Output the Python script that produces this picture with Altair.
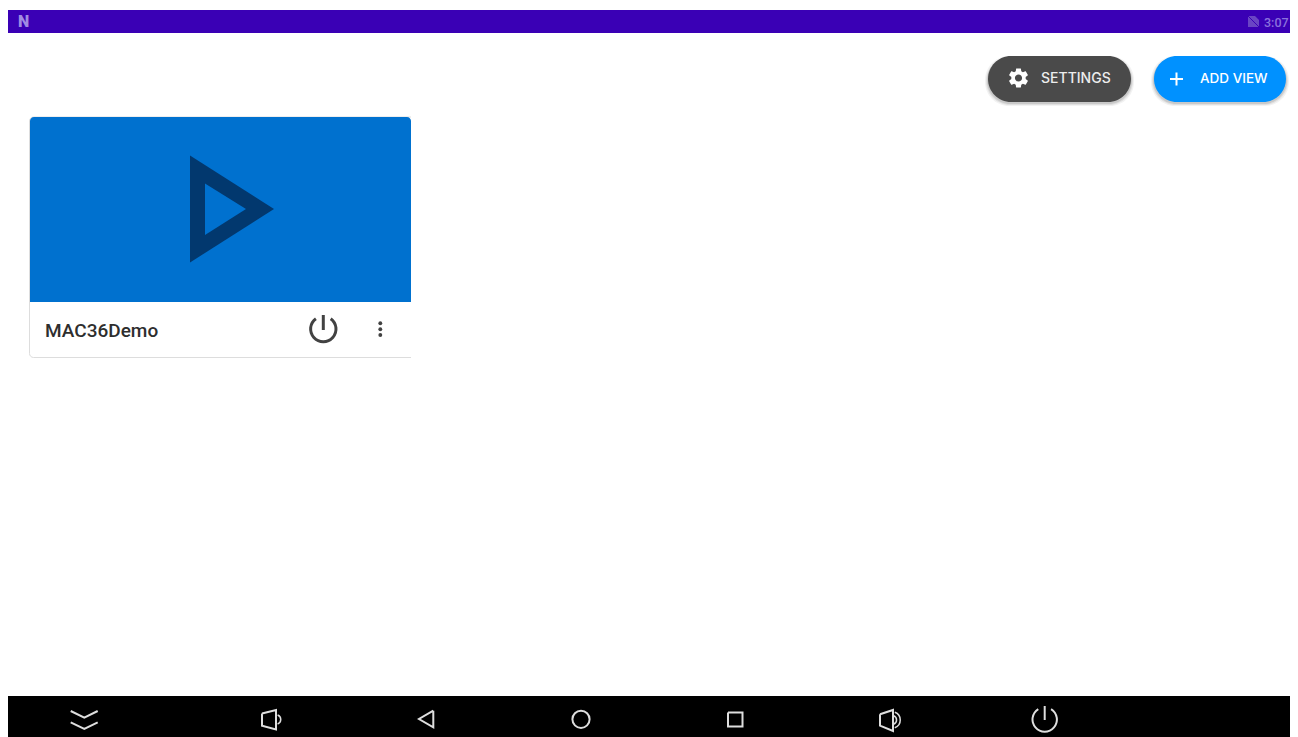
import altair as alt
import pandas as pd

W_DOMAIN = [8, 1290]
H_DOMAIN = [737, 8]

# Flat rectangles: x, x2, y, y2, colour
flat_rects = [
    (8, 1290, 10, 33, "#3A00B5"),
    (8, 1290, 696, 737, "#000000"),
]
# Button shadows: x, x2, y, y2, colour, opacity
shadow_rects = [
    (985, 1134, 56, 106, "#000000", 0.05),
    (986, 1133, 57, 105, "#000000", 0.07),
    (987, 1132, 57, 104, "#000000", 0.10),
    (1151, 1289, 56, 106, "#000000", 0.05),
    (1152, 1288, 57, 105, "#000000", 0.07),
    (1153, 1287, 57, 104, "#000000", 0.10),
]
button_rects = [
    (988, 1131, 56, 102, "#4A4A4A"),
    (1154, 1286, 56, 102, "#0091FF"),
]
card_frame = [(29.5, 440, 117, 357.5, "#FFFFFF")]
card_top = [(30, 411, 117, 302, "#0071CF")]
card_clip = [(411, 445, 112, 362, "#FFFFFF")]

# Filled outlines: id, x, y, y2, colour
filled_shapes = [
    ("play_outer", 190, 155.5, 262.5, "#02386E"),
    ("play_outer", 274, 209, 209, "#02386E"),
    ("play_inner", 205, 183.5, 235, "#0071CF"),
    ("play_inner", 246, 209, 209, "#0071CF"),
    ("sim", 1248, 16, 27, "#6A45C4"),
    ("sim", 1255, 16, 27, "#6A45C4"),
    ("sim", 1259, 20, 27, "#6A45C4"),
]

# Line icons: id, x, y, colour, width
NAV = "#DEDEDE"
icon_lines = [
    ("sim_slash", 1248, 16, "#3A00B5", 1),
    ("sim_slash", 1259, 27, "#3A00B5", 1),
    ("plus_h", 1170, 79, "#FFFFFF", 2),
    ("plus_h", 1183, 79, "#FFFFFF", 2),
    ("plus_v", 1176.5, 72.5, "#FFFFFF", 2),
    ("plus_v", 1176.5, 85.5, "#FFFFFF", 2),
    ("card_power", 323.3, 315, "#424242", 3),
    ("card_power", 323.3, 330, "#424242", 3),
    ("chev1", 70.7, 711, NAV, 2),
    ("chev1", 84.3, 717.7, NAV, 2),
    ("chev1", 97.7, 711, NAV, 2),
    ("chev2", 70.7, 722.3, NAV, 2),
    ("chev2", 84.3, 729, NAV, 2),
    ("chev2", 97.7, 722.3, NAV, 2),
    ("spk1", 262, 713.5, NAV, 2),
    ("spk1", 276, 710, NAV, 2),
    ("spk1", 276, 729.5, NAV, 2),
    ("spk1", 262, 725.7, NAV, 2),
    ("spk1", 262, 713.5, NAV, 2),
    ("back", 433.3, 710.7, NAV, 2),
    ("back", 419, 719, NAV, 2),
    ("back", 433.3, 727.3, NAV, 2),
    ("back", 433.3, 710.7, NAV, 2),
    ("square", 728, 712.5, NAV, 2),
    ("square", 742.5, 712.5, NAV, 2),
    ("square", 742.5, 726.5, NAV, 2),
    ("square", 728, 726.5, NAV, 2),
    ("square", 728, 712.5, NAV, 2),
    ("spk2", 880, 714.3, NAV, 2),
    ("spk2", 893, 710, NAV, 2),
    ("spk2", 893, 731, NAV, 2),
    ("spk2", 880, 725.7, NAV, 2),
    ("spk2", 880, 714.3, NAV, 2),
    ("nav_power", 1044.7, 706, NAV, 2),
    ("nav_power", 1044.7, 720, NAV, 2),
]

# Arcs: x, y, theta, theta2, inner radius, outer radius, colour
icon_arcs = [
    (323.3, 329, 0.62, 5.66, 11.2, 14.2, "#424242"),
    (276, 719.5, 0.35, 2.8, 4, 5.5, NAV),
    (581, 719.3, 0, 6.2832, 7.6, 9.6, NAV),
    (892, 720, 0.35, 2.8, 3.8, 5.3, NAV),
    (892, 720, 0.35, 2.8, 7.5, 9, NAV),
    (1044.7, 719.5, 0.55, 5.73, 11.2, 13.2, NAV),
]

menu_dots = [(380.3, 323.3), (380.3, 329.3), (380.3, 335)]

# Text: label, x, y, size, colour, weight, font
labels = [
    ("N", 18, 22, 16, "#A08CE2", 900, "Roboto"),
    ("3:07", 1264, 22.5, 12.5, "#8B72DC", 500, "Roboto"),
    ("SETTINGS", 1041, 79, 14, "#EDEDED", 500, "Inter"),
    ("ADD VIEW", 1200, 79, 13.5, "#FFFFFF", 500, "Inter"),
    ("MAC36Demo", 45, 330.5, 19, "#2E2E2E", 500, "Roboto"),
]

GEAR_PATH = (
    "M7.14,0.94c0.04-0.3,0.06-0.61,0.06-0.94c0-0.32-0.02-0.64-0.07-0.94l2.03-1.58"
    "c0.18-0.14,0.23-0.41,0.12-0.61l-1.92-3.32c-0.12-0.22-0.37-0.29-0.59-0.22l-2.39,0.96"
    "c-0.5-0.38-1.03-0.7-1.62-0.94l-0.36-2.54c-0.04-0.24-0.24-0.41-0.48-0.41h-3.84"
    "c-0.24,0-0.43,0.17-0.47,0.41l-0.36,2.54c-0.59,0.24-1.13,0.57-1.62,0.94l-2.39-0.96"
    "c-0.22-0.08-0.47,0-0.59,0.22l-1.92,3.32c-0.12,0.21-0.08,0.47,0.12,0.61l2.03,1.58"
    "c-0.05,0.3-0.09,0.63-0.09,0.94s0.02,0.64,0.07,0.94l-2.03,1.58"
    "c-0.18,0.14-0.23,0.41-0.12,0.61l1.92,3.32c0.12,0.22,0.37,0.29,0.59,0.22l2.39-0.96"
    "c0.5,0.38,1.03,0.7,1.62,0.94l0.36,2.54c0.05,0.24,0.24,0.41,0.48,0.41h3.84"
    "c0.24,0,0.44-0.17,0.47-0.41l0.36-2.54c0.59-0.24,1.13-0.56,1.62-0.94l2.39,0.96"
    "c0.22,0.08,0.47,0,0.59-0.22l1.92-3.32c0.12-0.22,0.07-0.47-0.12-0.61l-2.01-1.58z"
    "M0,3.6c-1.98,0-3.6-1.62-3.6-3.6s1.62-3.6,3.6-3.6s3.6,1.62,3.6,3.6s-1.62,3.6-3.6,3.6z"
)
gear_points = [(1018.5, 78, "#FFFFFF")]

X = alt.X("x:Q", scale=alt.Scale(domain=W_DOMAIN, nice=False, zero=False), axis=None)
Y = alt.Y("y:Q", scale=alt.Scale(domain=H_DOMAIN, nice=False, zero=False), axis=None)
COLOR = alt.Color("c:N", scale=None)


def rect_df(rows):
    cols = ["x", "x2", "y", "y2", "c", "o"]
    return pd.DataFrame([tuple(r) + ((1.0,) if len(r) == 5 else ()) for r in rows], columns=cols)


def rects(rows, **mark):
    return alt.Chart(rect_df(rows)).mark_rect(**mark).encode(
        x=X, x2="x2:Q", y=Y, y2="y2:Q", color=COLOR,
        opacity=alt.Opacity("o:Q", scale=None),
    )


layers = [
    rects(flat_rects),
    rects(shadow_rects, cornerRadius=24),
    rects(button_rects, cornerRadius=23),
    rects(card_frame, cornerRadius=4, stroke="#DDDDDD", strokeWidth=1),
    rects(card_top, cornerRadiusTopLeft=4, cornerRadiusTopRight=4),
    rects(card_clip),
]

areas = pd.DataFrame(filled_shapes, columns=["id", "x", "y", "y2", "c"])
layers.append(
    alt.Chart(areas).mark_area(opacity=1).encode(
        x=X, y=Y, y2="y2:Q", detail="id:N", color=COLOR,
    )
)

lines = pd.DataFrame(icon_lines, columns=["id", "x", "y", "c", "w"])
lines["o"] = range(len(lines))
layers.append(
    alt.Chart(lines).mark_line(strokeJoin="miter", strokeCap="butt").encode(
        x=X, y=Y, detail="id:N", order="o:Q", color=COLOR,
        strokeWidth=alt.StrokeWidth("w:Q", scale=None),
    )
)

arcs = pd.DataFrame(icon_arcs, columns=["x", "y", "t", "t2", "r", "r2", "c"])
layers.append(
    alt.Chart(arcs).mark_arc().encode(
        x=X, y=Y,
        theta=alt.Theta("t:Q", scale=None, stack=None),
        theta2="t2:Q",
        radius2=alt.Radius2("r:Q"),
        radius=alt.Radius("r2:Q", scale=None),
        color=COLOR,
    )
)

dots = pd.DataFrame(menu_dots, columns=["x", "y"])
layers.append(
    alt.Chart(dots).mark_circle(size=15, color="#424242", opacity=1).encode(x=X, y=Y)
)

gears = pd.DataFrame(gear_points, columns=["x", "y", "c"])
layers.append(
    alt.Chart(gears).mark_point(shape=GEAR_PATH, filled=True, size=4, opacity=1).encode(
        x=X, y=Y, color=COLOR
    )
)

for lab, lx, ly, fs, col, wt, fnt in labels:
    row = pd.DataFrame([{"t": lab, "x": lx, "y": ly}])
    layers.append(
        alt.Chart(row).mark_text(
            align="left", baseline="middle", font=fnt,
            fontSize=fs, color=col, fontWeight=wt,
        ).encode(x=X, y=Y, text="t:N")
    )

chart = alt.layer(*layers).properties(
    width=1282, height=729, padding=0, background="#FFFFFF",
    autosize=alt.AutoSizeParams(type="none"),
).configure_view(stroke=None)

chart.save("out.html", embed_options={"renderer": "svg", "actions": False})
